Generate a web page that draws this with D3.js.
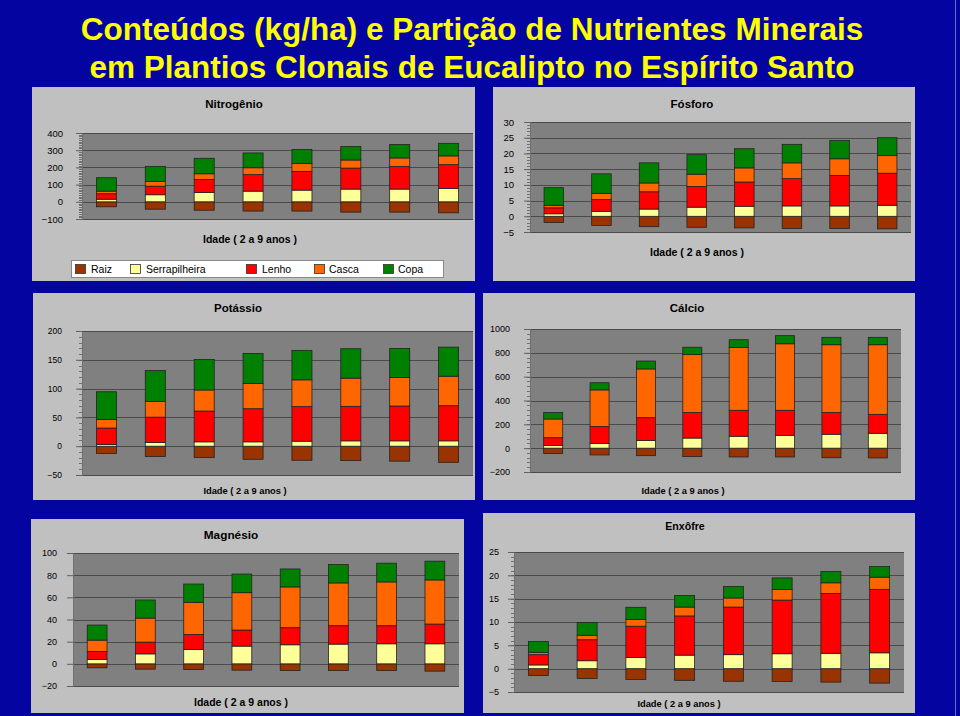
<!DOCTYPE html>
<html><head><meta charset="utf-8">
<script src="https://cdn.jsdelivr.net/npm/d3@7"></script>
<style>html,body{margin:0;padding:0;background:#0404a0;}svg{display:block;}</style>
</head><body><svg id="c" width="960" height="716"></svg>
<script>
// ---------- DATA ----------
const years = ["2","3","4","5","6","7","8","9"];
const seriesNames = ["Raiz","Serrapilheira","Lenho","Casca","Copa"];
const seriesColors = ["#993300","#FFFF99","#FF0000","#FF6600","#008000"];
const xTitle = "Idade ( 2 a 9 anos )";

const nitroRaiz  = [-29,-43,-49,-54,-54,-60,-60,-64];
const nitroSerr  = [15,41,54,62,68,74,74,78];
const nitroLenho = [32,50,76,96,109,122,132,138];
const nitroCasca = [15,28,33,40,45,47,49,51];
const nitroCopa  = [78,87,90,86,82,78,78,73];
const nitroTicks = [-100,0,100,200,300,400];

const fosRaiz  = [-2.0,-2.9,-3.3,-3.5,-3.7,-3.9,-3.9,-4.0];
const fosSerr  = [0.8,1.6,2.3,2.9,3.2,3.3,3.3,3.5];
const fosLenho = [1.9,3.7,5.5,6.6,7.7,8.7,9.7,10.2];
const fosCasca = [0.8,2.0,2.8,3.9,4.5,5.0,5.3,5.6];
const fosCopa  = [5.6,6.2,6.4,6.2,6.1,5.9,5.8,5.7];
const fosTicks = [-5,0,5,10,15,20,25,30];

const potRaiz  = [-12.8,-18,-19.8,-22.7,-24.4,-25,-26,-28];
const potSerr  = [3,6.4,7.6,7.6,8.7,9.3,9.3,9.3];
const potLenho = [28.5,44,53.4,57.5,60,59.9,60.5,61];
const potCasca = [15,27.5,36.6,43.6,46.5,49,49.4,51.2];
const potCopa  = [48,53.5,53,52.4,51.2,51,50.6,50.5];
const potTicks = [-50,0,50,100,150,200];

const calRaiz  = [-45,-57,-63,-71,-74,-74,-80,-82];
const calSerr  = [23,40,65,85,100,108,117,125];
const calLenho = [65,142,191,214,218,210,182,159];
const calCasca = [157,307,409,486,527,558,569,584];
const calCopa  = [54,60,66,62,65,68,62,62];
const calTicks = [-200,0,200,400,600,800,1000];

const magRaiz  = [-3.6,-4.8,-5.1,-5.7,-6,-6,-6,-6.6];
const magSerr  = [3.9,9,13,16,17.2,17.8,18.1,18.1];
const magLenho = [7.3,10.6,13.5,14.5,15.4,16.6,16.3,17.8];
const magCasca = [10.2,21.7,29,33.7,36.8,38.6,39.5,39.8];
const magCopa  = [13.6,16.3,16.5,16.8,16.2,16.6,16.9,16.9];
const magTicks = [-20,0,20,40,60,80,100];

const enxRaiz  = [-1.44,-2.1,-2.3,-2.5,-2.7,-2.74,-2.88,-3.1];
const enxSerr  = [0.8,1.7,2.4,2.9,3.0,3.2,3.3,3.4];
const enxLenho = [2.2,4.5,6.7,8.4,10.2,11.5,12.8,13.6];
const enxCasca = [0.5,0.95,1.45,1.9,1.95,2.25,2.3,2.6];
const enxCopa  = [2.3,2.75,2.6,2.5,2.45,2.5,2.4,2.3];
const enxTicks = [-5,0,5,10,15,20,25];

const mainTitle = ["Conteúdos (kg/ha) e Partição de Nutrientes Minerais",
                   "em Plantios Clonais de Eucalipto no Espírito Santo"];

// ---------- LAYOUT ----------
const panels = [
 {name:"Nitrogênio", s:[nitroRaiz,nitroSerr,nitroLenho,nitroCasca,nitroCopa], ticks:nitroTicks, minor:10,
  box:[32,87,475,281], plot:[82,133,473,219], title:[234,108,11.5], xl:[250,243,10.5], lr:63, tf:9.5, legend:true},
 {name:"Fósforo", s:[fosRaiz,fosSerr,fosLenho,fosCasca,fosCopa], ticks:fosTicks, minor:1,
  box:[493,87,915,281], plot:[530,122,911,232], title:[692,108,11.5], xl:[697,256,10.5], lr:514, tf:9.5},
 {name:"Potássio", s:[potRaiz,potSerr,potLenho,potCasca,potCopa], ticks:potTicks, minor:10,
  box:[33,293,475,500], plot:[82,331,473,475], title:[238,312,11.5], xl:[245,494,9.3], lr:62, tf:8.5},
 {name:"Cálcio", s:[calRaiz,calSerr,calLenho,calCasca,calCopa], ticks:calTicks, minor:40,
  box:[483,293,915,500], plot:[530,329,901,472], title:[687,312,11.5], xl:[683,494,9.3], lr:510, tf:9},
 {name:"Magnésio", s:[magRaiz,magSerr,magLenho,magCasca,magCopa], ticks:magTicks, minor:0,
  box:[31,519,464,713], plot:[73,553,459,686], title:[231,539,11.8], xl:[241,706,10.5], lr:57, tf:9},
 {name:"Enxôfre", s:[enxRaiz,enxSerr,enxLenho,enxCasca,enxCopa], ticks:enxTicks, minor:1,
  box:[483,513,915,713], plot:[514,552,904,692], title:[685,530,10.6], xl:[679,707,9.3], lr:499, tf:9}
];

const svg = d3.select("#c");
const FONT = "Liberation Sans, Arial, Helvetica, sans-serif";
svg.append("rect").attr("width",960).attr("height",716).attr("fill","#0404a0");
svg.append("line").attr("x1",955.5).attr("x2",955.5).attr("y1",0).attr("y2",716).attr("stroke","#6a6ac8").attr("stroke-width",1);

svg.selectAll("text.mt").data(mainTitle).join("text")
  .attr("x",472).attr("y",(d,i)=>40+i*38)
  .attr("text-anchor","middle").attr("font-family",FONT).attr("font-weight","bold")
  .attr("font-size",31.5).attr("fill","#FFFF00").text(d=>d);

panels.forEach(p=>{
  const g = svg.append("g");
  const [bx0,by0,bx1,by1] = p.box;
  g.append("rect").attr("x",bx0).attr("y",by0).attr("width",bx1-bx0).attr("height",by1-by0)
    .attr("fill","#C0C0C0");
  const [px0,py0,px1,py1] = p.plot;
  const y = d3.scaleLinear().domain(d3.extent(p.ticks)).range([py1,py0]);
  const x = d3.scaleBand().domain(years).range([px0,px1]).paddingInner(0.59).paddingOuter(0.295);
  g.append("rect").attr("x",px0).attr("y",py0).attr("width",px1-px0).attr("height",py1-py0).attr("fill","#808080");
  g.selectAll("line.grid").data(p.ticks).join("line")
    .attr("x1",px0).attr("x2",px1).attr("y1",d=>Math.round(y(d))+0.5).attr("y2",d=>Math.round(y(d))+0.5)
    .attr("stroke","#4a4a4a").attr("stroke-width",1);
  if(p.minor){
    const [lo,hi] = d3.extent(p.ticks);
    const mv = d3.range(lo, hi+p.minor/2, p.minor);
    g.selectAll("line.minor").data(mv).join("line")
      .attr("x1",px0-3).attr("x2",px0).attr("y1",d=>Math.round(y(d))+0.5).attr("y2",d=>Math.round(y(d))+0.5)
      .attr("stroke","#707070");
  }
  const ax = d3.axisLeft(y).tickValues(p.ticks).tickSize(6).tickPadding(px0-p.lr-6).tickFormat(d3.format("d"));
  const axG = g.append("g").attr("transform",`translate(${px0},0)`).call(ax);
  axG.select(".domain").attr("stroke","#707070");
  axG.selectAll(".tick line").attr("stroke","#606060");
  axG.selectAll(".tick text").attr("font-family",FONT).attr("font-size",p.tf).attr("fill","#000");
  const rows = years.map((yr,i)=>{const o={year:yr}; seriesNames.forEach((n,k)=>o[n]=p.s[k][i]); return o;});
  const stack = d3.stack().keys(seriesNames).offset(d3.stackOffsetDiverging)(rows);
  stack.forEach((layer,k)=>{
    g.selectAll(null).data(layer).join("rect")
      .attr("x",d=>x(d.data.year)).attr("width",x.bandwidth())
      .attr("y",d=>y(Math.max(d[0],d[1]))).attr("height",d=>Math.abs(y(d[0])-y(d[1])))
      .attr("fill",seriesColors[k]).attr("stroke","#222").attr("stroke-width",0.8);
  });
  g.append("text").attr("x",p.title[0]).attr("y",p.title[1]).attr("text-anchor","middle")
    .attr("font-family",FONT).attr("font-weight","bold").attr("font-size",p.title[2]).text(p.name);
  g.append("text").attr("x",p.xl[0]).attr("y",p.xl[1]).attr("text-anchor","middle")
    .attr("font-family",FONT).attr("font-weight","bold").attr("font-size",p.xl[2]).text(xTitle);
  if(p.legend){
    const lg = g.append("g");
    lg.append("rect").attr("x",71.5).attr("y",260.5).attr("width",372).attr("height",17)
      .attr("fill","#fff").attr("stroke","#888");
    const sx = [75,130,246,314,383], tx=[91,146,262,329,398];
    seriesNames.forEach((n,k)=>{
      lg.append("rect").attr("x",sx[k]+0.5).attr("y",264.5).attr("width",10).attr("height",9)
        .attr("fill",seriesColors[k]).attr("stroke","#333").attr("stroke-width",0.8);
      lg.append("text").attr("x",tx[k]).attr("y",273).attr("font-family",FONT)
        .attr("font-size",10.5).text(n);
    });
  }
});
</script></body></html>
